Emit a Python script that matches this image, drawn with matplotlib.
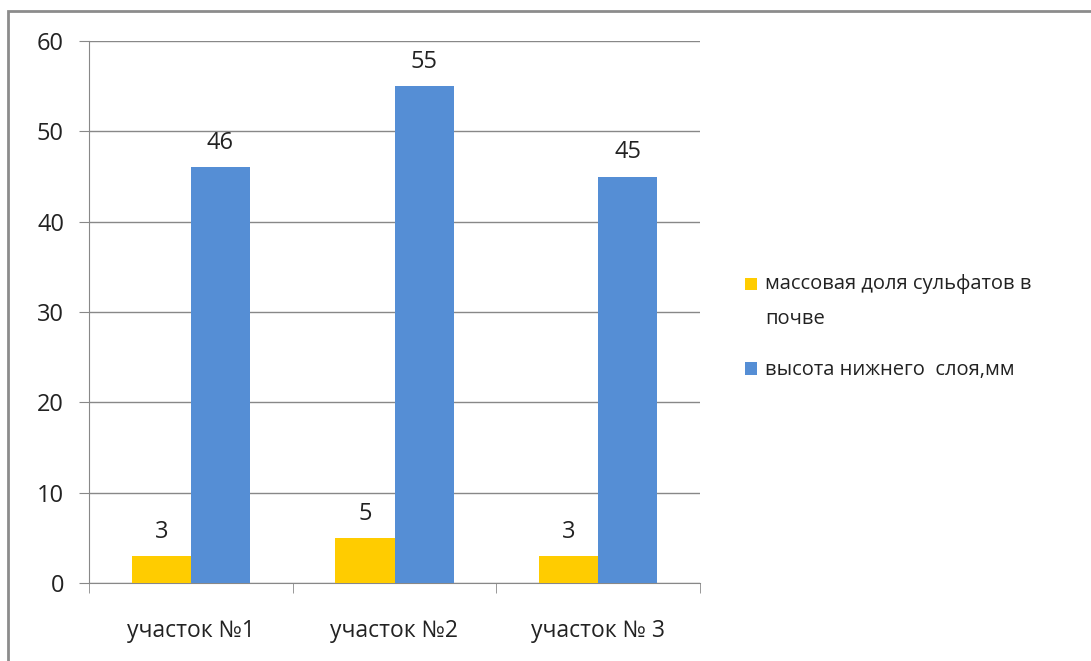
import matplotlib.pyplot as plt
from matplotlib.patches import Rectangle
from matplotlib.legend_handler import HandlerPatch
import numpy as np

categories = ["участок №1", "участок №2", "участок № 3"]
sulfates = [3, 5, 3]
layer_height = [46, 55, 45]
series_names = ["массовая доля сульфатов в\nпочве", "высота нижнего  слоя,мм"]
y_ticks = [0, 10, 20, 30, 40, 50, 60]

plt.rcParams['font.family'] = ['Open Sans', 'DejaVu Sans']

fig = plt.figure(figsize=(10.91, 6.61), dpi=100)
ax = fig.add_axes([89/1091, 1 - 583/661, (700 - 89)/1091, (583 - 41)/661])

x = np.arange(len(categories))
w = 0.29
b1 = ax.bar(x - w/2, sulfates, w, color="#FFCC00", zorder=3)
b2 = ax.bar(x + w/2, layer_height, w, color="#558ED5", zorder=3)

# value labels above bars
for bars, vals in [(b1, sulfates), (b2, layer_height)]:
    for r, v in zip(bars, vals):
        ax.annotate(str(v), (r.get_x() + r.get_width()/2, v), xytext=(0, 13),
                    textcoords="offset points", ha="center", va="baseline",
                    fontsize=17, color="#222222")

ax.set_ylim(0, 60)
ax.set_xlim(-0.5, 2.5)
ax.set_yticks(y_ticks)
ax.yaxis.grid(True, color="#888888", linewidth=1)
ax.set_axisbelow(True)
ax.set_xticks(x)
ax.set_xticklabels(categories)
ax.set_xticks([-0.5, 0.5, 1.5, 2.5], minor=True)
ax.tick_params(axis="x", which="major", length=0, pad=26, labelsize=16.5, labelcolor="#222222")
ax.tick_params(axis="x", which="minor", length=7, color="#888888")
ax.tick_params(axis="y", length=7, color="#888888", labelsize=17, labelcolor="#222222", pad=11)
for s in ["top", "right"]:
    ax.spines[s].set_visible(False)
for s in ["left", "bottom"]:
    ax.spines[s].set_color("#888888")


# the square for the two-line label sits next to the first line, not in the middle
def top_square(legend, orig_handle, xdescent, ydescent, width, height, fontsize):
    return Rectangle((-xdescent, -ydescent + 13), width, height)


def from_first_bar(handle, orig):
    handle.update_from(orig.patches[0])


leg = fig.legend([b1, b2], series_names, loc="upper left",
                 bbox_to_anchor=(727/1091, 1 - 256/661), frameon=False,
                 fontsize=14.5, handlelength=0.6, handleheight=0.6,
                 handletextpad=0.4, labelspacing=1.55,
                 handler_map={b1: HandlerPatch(patch_func=top_square,
                                               update_func=from_first_bar)})
for t in leg.get_texts():
    t.set_linespacing(2.0)
    t.set_color("#222222")

# outer frame, cut off at the right and bottom like the screenshot
fig.patches.append(Rectangle((8/1091, -0.1), 1.2, 1.1 - 11/661,
                             transform=fig.transFigure, fill=False,
                             edgecolor="#8c8c8c", linewidth=2))

fig.savefig("out.png", dpi=100)
